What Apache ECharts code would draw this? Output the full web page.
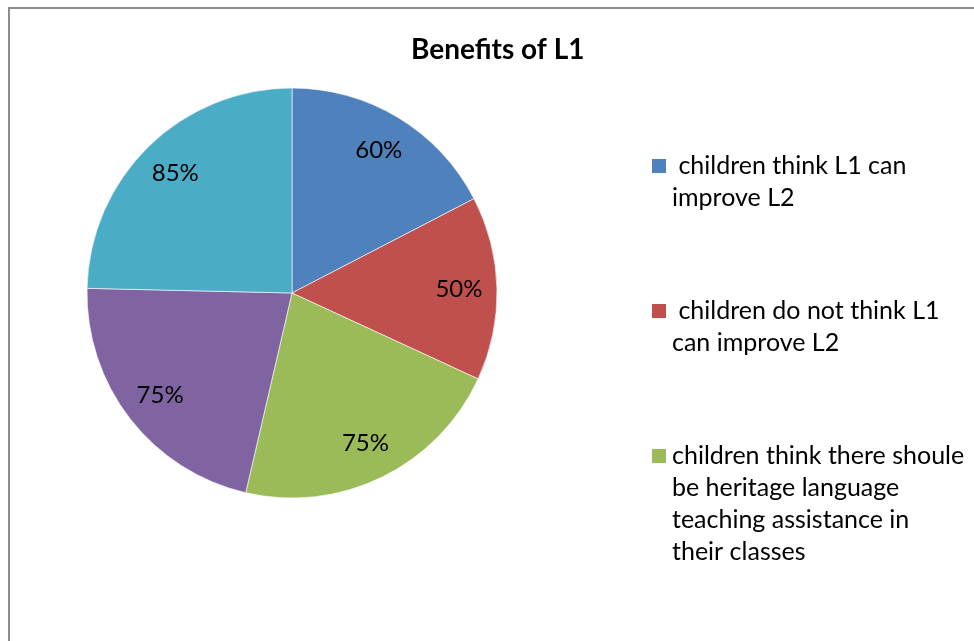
<!DOCTYPE html>
<html>
<head>
<meta charset="utf-8">
<title>Benefits of L1</title>
<script src="https://cdn.jsdelivr.net/npm/echarts@6/dist/echarts.min.js"></script>
<style>
html, body { margin: 0; padding: 0; background: #fff; overflow: hidden; }
#chart { width: 974px; height: 641px; }
/* the chart-area frame, cut off at the right and bottom like in the picture */
#frame { position: absolute; left: 8px; top: 7px; width: 1100px; height: 800px; border: 2px solid #8c8c8c; box-sizing: border-box; pointer-events: none; }
</style>
</head>
<body>
<div id="chart"></div>
<div id="frame"></div>
<script>
// slice data
var names = [' children think L1 can improve L2', ' children do not think L1 can improve L2', 'children think there shoule be heritage language teaching assistance in their classes', 'item 4', 'item 5'];
var values = [60, 50, 75, 75, 85];
var colors = ['#4F81BD', '#C0504D', '#9BBB59', '#8064A2', '#4BACC6'];

// only the first three legend entries are visible, wrapped like this
var legendNames = names.slice(0, 3);
var legendLines = [
	[' children think L1 can', 'improve L2'],
	[' children do not think L1', 'can improve L2'],
	['children think there shoule', 'be heritage language', 'teaching assistance in', 'their classes']
];

var FONT = 'Lato, "Liberation Sans", sans-serif';

var pieData = names.map(function (n, i) {
	return { name: n, value: values[i], itemStyle: { color: colors[i] } };
});

// rich styles for the legend: a coloured square in front of the first line
var rich = {
	gap: { width: 6, lineHeight: 32 },
	ind: { width: 20, lineHeight: 32 },
	t: { fontSize: 25, lineHeight: 32, color: '#000', fontFamily: FONT }
};
legendNames.forEach(function (n, i) {
	rich['sq' + i] = { width: 14, height: 14, lineHeight: 32, backgroundColor: colors[i] };
});

var chart = echarts.init(document.getElementById('chart'));
chart.setOption({
	animation: false,
	title: {
		text: 'Benefits of L1',
		left: 406,
		top: 31,
		textStyle: { fontSize: 28, fontWeight: 'bold', color: '#000', fontFamily: FONT }
	},
	legend: {
		data: legendNames,
		orient: 'vertical',
		left: 646,
		top: 150,
		padding: 0,
		itemWidth: 0,
		itemHeight: 0,
		itemGap: 81,
		selectedMode: false,
		formatter: function (name) {
			var i = legendNames.indexOf(name);
			return legendLines[i].map(function (t, k) {
				return (k === 0 ? '{sq' + i + '|}{gap|}' : '{ind|}') + '{t|' + t + '}';
			}).join('\n');
		},
		textStyle: { fontSize: 25, lineHeight: 32, fontFamily: FONT, rich: rich }
	},
	series: [
		{
			type: 'pie',
			center: [292, 293],
			radius: [0, 205],
			startAngle: 90,
			clockwise: true,
			silent: true,
			label: { show: false },
			labelLine: { show: false },
			itemStyle: { borderColor: 'rgba(255,255,255,0.6)', borderWidth: 1 },
			data: pieData
		},
		{
			// transparent ring that only carries the percentage labels
			type: 'pie',
			center: [292, 293],
			radius: [123, 205],
			startAngle: 90,
			clockwise: true,
			silent: true,
			itemStyle: { color: 'rgba(0,0,0,0)' },
			label: {
				show: true,
				position: 'inside',
				formatter: '{c}%',
				fontSize: 24,
				color: '#000',
				fontFamily: FONT
			},
			labelLine: { show: false },
			data: names.map(function (n, i) { return { name: n, value: values[i] }; })
		}
	]
});
</script>
</body>
</html>
